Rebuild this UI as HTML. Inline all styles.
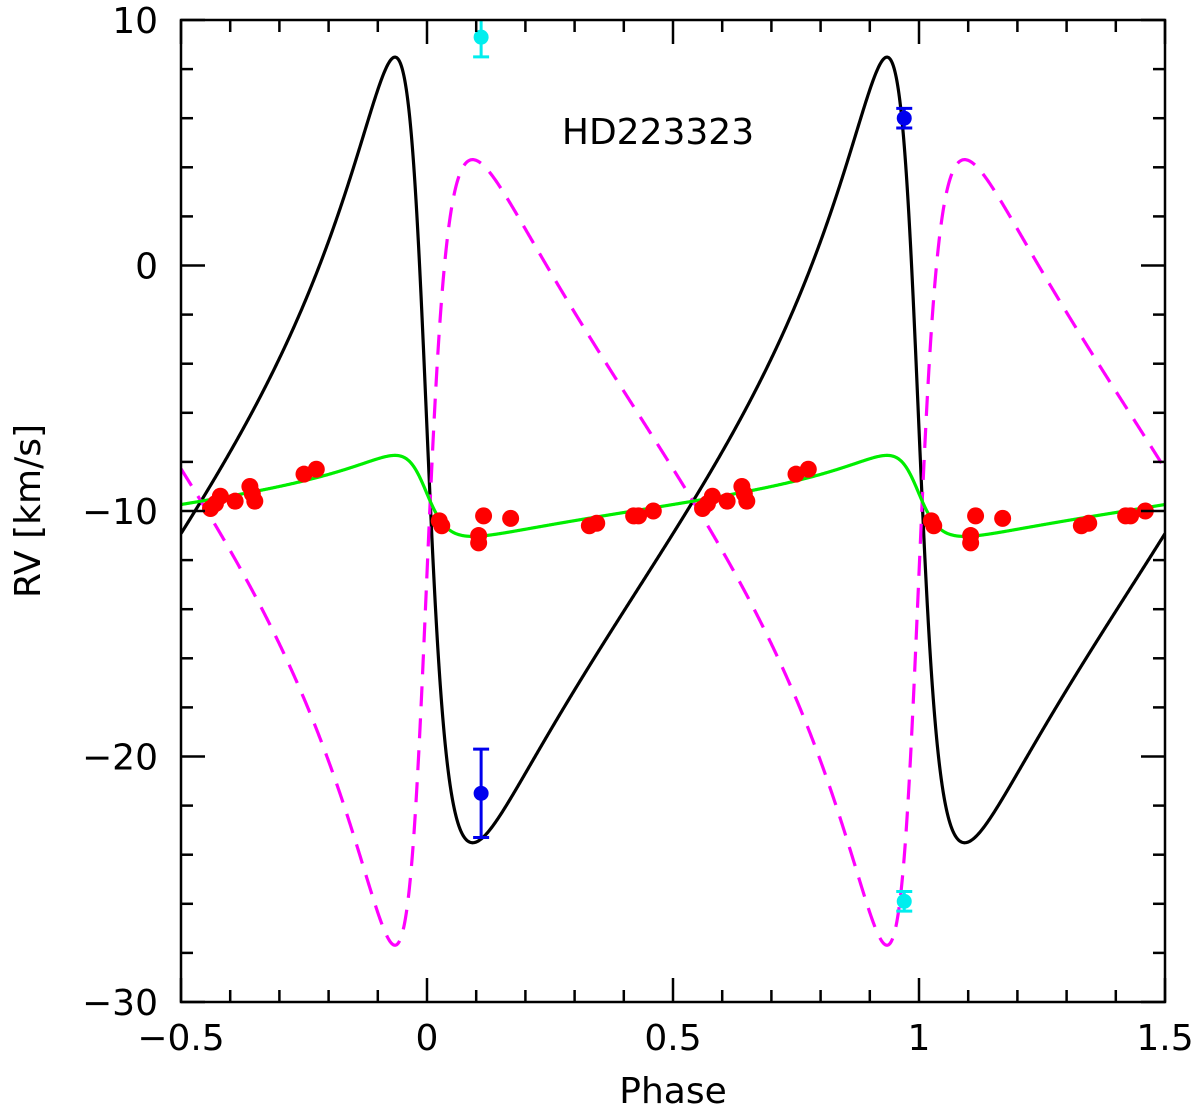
<!DOCTYPE html>
<html><head><meta charset="utf-8"><style>
html,body{margin:0;padding:0;background:#fff;}
svg text{font-family:"DejaVu Sans","Liberation Sans",sans-serif;fill:#000;}
</style></head><body>
<svg id="chart" width="1200" height="1111" viewBox="0 0 1200 1111" xmlns="http://www.w3.org/2000/svg">
<g id="marks"></g>
<g id="axes"></g>
<text x="658" y="144" font-size="36" text-anchor="middle">HD223323</text>
<text x="673" y="1103" font-size="36" text-anchor="middle">Phase</text>
<text transform="translate(40,511) rotate(-90)" font-size="36" text-anchor="middle">RV [km/s]</text>
</svg>
<script>
// ---- data ----
const orbitEcc = [0.58];
const orbitOmegaDeg = [77];
const orbitT0 = [-0.006];
const gammaRV = [-9.6];
const semiAmplitudes = [16.0, 16.0, 1.65]; // primary, secondary, tertiary
const redPhase = [-0.44,-0.43,-0.42,-0.39,-0.36,-0.355,-0.35,-0.25,-0.225,0.025,0.03,0.105,0.105,0.115,0.17,0.33,0.345,0.42,0.43,0.46];
const redRV = [-9.9,-9.7,-9.4,-9.6,-9.0,-9.3,-9.6,-8.5,-8.3,-10.4,-10.6,-11.0,-11.3,-10.2,-10.3,-10.6,-10.5,-10.2,-10.2,-10.0];
const bluePhase = [0.11, 0.97];
const blueRV = [-21.5, 6.0];
const blueErr = [1.8, 0.4];
const cyanPhase = [0.11, 0.97];
const cyanRV = [9.3, -25.9];
const cyanErr = [0.8, 0.4];
const xTickLabels = ["\u22120.5","0","0.5","1","1.5"];
const xTickValues = [-0.5,0,0.5,1,1.5];
const yTickLabels = ["\u221230","\u221220","\u221210","0","10"];
const yTickValues = [-30,-20,-10,0,10];

// ---- axes ----
const X0=181,X1=1165,Y0=20,Y1=1002;
const xs=p=>X0+(p+0.5)/2*(X1-X0);
const ys=v=>Y1-(v+30)/40*(Y1-Y0);
const NS="http://www.w3.org/2000/svg";
const marks=document.getElementById('marks'), axes=document.getElementById('axes');
function mk(tag,attrs,parent){const e=document.createElementNS(NS,tag);for(const k in attrs)e.setAttribute(k,attrs[k]);parent.appendChild(e);return e;}

function rvModel(phase,K,flip){
  const e=orbitEcc[0], w=orbitOmegaDeg[0]*Math.PI/180+(flip?Math.PI:0);
  let M=2*Math.PI*(phase-orbitT0[0]);
  let E=M;for(let i=0;i<60;i++)E=E-(E-e*Math.sin(E)-M)/(1-e*Math.cos(E));
  const nu=2*Math.atan2(Math.sqrt(1+e)*Math.sin(E/2),Math.sqrt(1-e)*Math.cos(E/2));
  return gammaRV[0]+K*(Math.cos(nu+w)+e*Math.cos(w));
}
function curve(K,flip,color,dash,name){
  let d="";
  for(let i=0;i<=2000;i++){const p=-0.5+2*i/2000;d+=(i?"L":"M")+xs(p).toFixed(2)+","+ys(rvModel(p,K,flip)).toFixed(2);}
  const el=mk('path',{d:d,fill:'none',stroke:color,'stroke-width':3.2},marks);
  if(dash)el.setAttribute('stroke-dasharray',dash);
  
  
}
const clip=mk('clipPath',{id:'pc'},marks);mk('rect',{x:X0,y:Y0,width:X1-X0,height:Y1-Y0},clip);
marks.setAttribute('clip-path','url(#pc)');
curve(semiAmplitudes[0],false,'#000',null,'primary-rv-curve');
curve(semiAmplitudes[1],true,'#ff00ff','20 12','secondary-rv-curve');
curve(semiAmplitudes[2],false,'#00ee00',null,'tertiary-rv-curve');

redPhase.forEach((p,i)=>{
  [p,p+1].forEach(q=>{ if(q>=-0.5&&q<=1.5){
    const c=mk('circle',{cx:xs(q),cy:ys(redRV[i]),r:8.5,fill:'#ff0000'},marks);
    
    
  }});
});
function errPts(ph,rv,er,color,name){
  ph.forEach((p,i)=>{
    const x=xs(p),yt=ys(rv[i]+er[i]),yb=ys(rv[i]-er[i]);
    const g=mk('g',{stroke:color,'stroke-width':3},marks);
    
    
    mk('line',{x1:x,x2:x,y1:yt,y2:yb},g);
    mk('line',{x1:x-8,x2:x+8,y1:yt,y2:yt},g);
    mk('line',{x1:x-8,x2:x+8,y1:yb,y2:yb},g);
    mk('circle',{cx:x,cy:ys(rv[i]),r:7.5,fill:color,stroke:'none'},g);
  });
}
errPts(bluePhase,blueRV,blueErr,'#0000ee','blue-point');
errPts(cyanPhase,cyanRV,cyanErr,'#00eeee','cyan-point');

// frame & ticks
const fr=mk('rect',{x:X0,y:Y0,width:X1-X0,height:Y1-Y0,fill:'none',stroke:'#000','stroke-width':2.5},axes);

for(let i=0;i<=20;i++){const p=-0.5+i*0.1,x=xs(p),L=(i%5===0)?24:12;
  mk('line',{x1:x,x2:x,y1:Y1,y2:Y1-L,stroke:'#000','stroke-width':2.5},axes);
  mk('line',{x1:x,x2:x,y1:Y0,y2:Y0+L,stroke:'#000','stroke-width':2.5},axes);}
for(let i=0;i<=20;i++){const v=-30+i*2,y=ys(v),L=(i%5===0)?24:12;
  mk('line',{x1:X0,x2:X0+L,y1:y,y2:y,stroke:'#000','stroke-width':2.5},axes);
  mk('line',{x1:X1,x2:X1-L,y1:y,y2:y,stroke:'#000','stroke-width':2.5},axes);}
xTickValues.forEach((v,i)=>{const t=mk('text',{x:xs(v),y:1050,'font-size':36,'text-anchor':'middle'},axes);t.textContent=xTickLabels[i];
  });
yTickValues.forEach((v,i)=>{const t=mk('text',{x:158,y:ys(v)+13,'font-size':36,'text-anchor':'end'},axes);t.textContent=yTickLabels[i];
  });
</script>
</body></html>
